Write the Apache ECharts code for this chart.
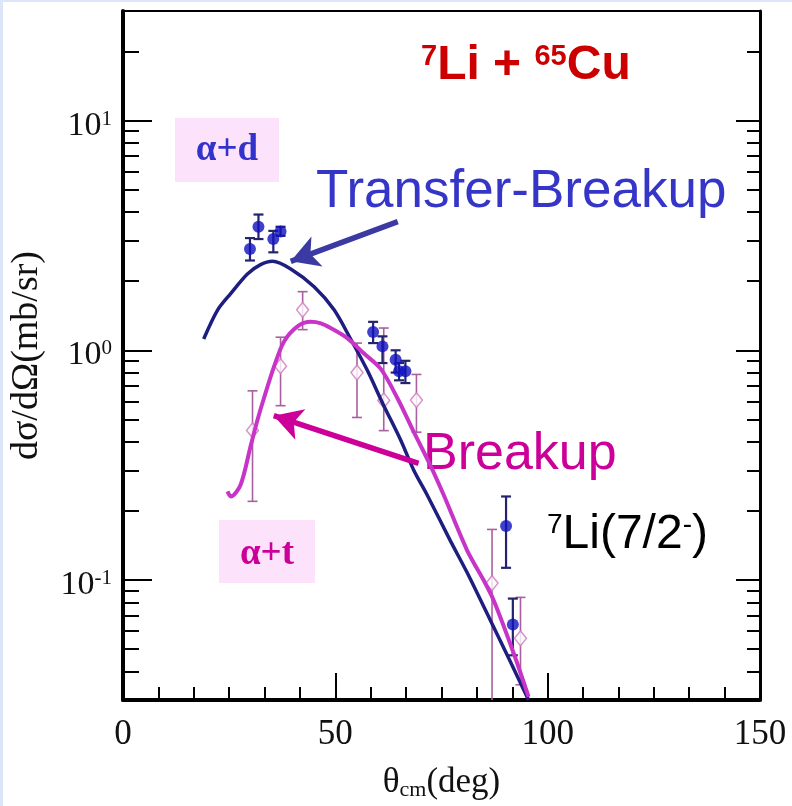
<!DOCTYPE html>
<html><head><meta charset="utf-8">
<script src="https://cdn.jsdelivr.net/npm/echarts@6.0.0/dist/echarts.min.js"></script>
<style>html,body{margin:0;padding:0;background:#fff}#c{width:792px;height:806px}</style>
</head><body><div id="c"></div>
<script>
// ---- data ----
const thetaTB = [19.0,22.3,25.4,29.3,32.4,35.2,39.5,45.0,49.7,53.6,57.5,61.3,65.3,68.5,71.6,77.1,81.0,86.5,91.0,95.5];
const sigmaTB = [1.12,1.50,1.77,2.15,2.36,2.44,2.26,1.89,1.50,1.12,0.82,0.58,0.41,0.30,0.235,0.148,0.108,0.0668,0.045,0.030];
const thetaBU = [24.6,25.4,27.7,30.1,31.7,33.2,35.6,37.9,41.1,44.2,46.6,48.9,52.8,56.7,60.7,64.6,68.5,72.4,75.5,81.0,84.9,87.3,92.0,95.5];
const sigmaBU = [0.243,0.231,0.26,0.386,0.50,0.62,0.853,1.09,1.27,1.33,1.31,1.25,1.13,0.97,0.83,0.62,0.44,0.315,0.235,0.135,0.100,0.0815,0.048,0.031];

const adX  = [29.9,31.9,35.4,37.1,58.9,61.1,64.2,65.0,66.5,90.2,91.8];
const adY  = [2.76,3.45,3.05,3.29,1.20,1.04,0.91,0.81,0.81,0.172,0.064];
const adLo = [2.46,3.05,2.67,3.15,1.075,0.88,0.80,0.74,0.72,0.113,0.047];
const adHi = [3.08,3.90,3.31,3.45,1.33,1.15,1.00,0.88,0.90,0.231,0.083];

const atX  = [30.5,37.1,42.3,55.1,61.4,69.1,86.9,93.6];
const atY  = [0.448,0.853,1.50,0.80,0.605,0.607,0.097,0.0557];
const atLo = [0.22,0.574,1.23,0.51,0.447,0.44,0.01,0.035];
const atHi = [0.666,1.14,1.80,1.075,1.25,0.785,0.166,0.084];

const xTicks = [0,50,100,150];
const yMajor = [0.1,1,10];
const yMinor = [0.04,0.05,0.06,0.07,0.08,0.09,0.2,0.3,0.4,0.5,0.6,0.7,0.8,0.9,2,3,4,5,6,7,8,9,20];

// arrow annotations [tail, tip] in data coordinates
const arrowTB = [[64.7,3.63],[39.5,2.44]];
const arrowBU = [[69.6,0.322],[35.5,0.519]];

// ---- chart ----
const SERIF = "'Liberation Serif','DejaVu Serif',serif";
const SANS = "'Liberation Sans',Arial,sans-serif";
const chart = echarts.init(document.getElementById('c'));

function errRender(color, width, cap) {
  return function (params, api) {
    const x = api.value(0), lo = api.value(2), hi = api.value(3);
    const a = api.coord([x, lo]), b = api.coord([x, hi]);
    const st = {stroke: color, lineWidth: width};
    return {type: 'group', children: [
      {type: 'line', shape: {x1: a[0], y1: a[1], x2: b[0], y2: b[1]}, style: st},
      {type: 'line', shape: {x1: b[0]-cap, y1: b[1], x2: b[0]+cap, y2: b[1]}, style: st},
      {type: 'line', shape: {x1: a[0]-cap, y1: a[1], x2: a[0]+cap, y2: a[1]}, style: st}
    ]};
  };
}

const yBase = {type: 'log', logBase: 10, min: 0.03, max: 30, splitLine: {show: false}};
const tickLine = {color: '#000', width: 2};

const option = {
  animation: false,
  backgroundColor: '#fff',
  grid: {left: 122, right: 32, top: 11, bottom: 101, show: false},
  xAxis: [
    {type: 'value', min: 0, max: 150, interval: 50, position: 'bottom',
     axisLine: {show: true, onZero: false, lineStyle: {color: '#000', width: 4}},
     axisTick: {show: true, inside: true, length: 27, lineStyle: tickLine},
     minorTick: {show: true, splitNumber: 6, length: 13, lineStyle: tickLine},
     splitLine: {show: false},
     axisLabel: {margin: 17, fontFamily: SERIF, fontSize: 35, color: '#111',
       formatter: v => xTicks.indexOf(v) >= 0 ? String(v) : ''},
     name: '{t|θ}{c|cm}{t|(deg)}', nameLocation: 'middle', nameGap: 50,
     nameTextStyle: {rich: {
       t: {fontFamily: SERIF, fontSize: 35, color: '#111', lineHeight: 36, verticalAlign: 'top'},
       c: {fontFamily: SERIF, fontSize: 22, color: '#111', lineHeight: 22, verticalAlign: 'bottom', padding: [22,0,0,0]}
     }}},
    {type: 'value', min: 0, max: 150, position: 'top',
     axisLine: {show: true, onZero: false, lineStyle: {color: '#000', width: 2}},
     axisTick: {show: false}, axisLabel: {show: false}, splitLine: {show: false}}
  ],
  yAxis: [
    Object.assign({}, yBase, {position: 'left',
      axisLine: {show: true, lineStyle: {color: '#000', width: 4}},
      axisTick: {show: true, inside: true, length: 29, customValues: yMajor, lineStyle: tickLine},
      axisLabel: {customValues: yMajor, margin: 11, padding: [10,0,0,0],
        formatter: v => '{n|10}{s|' + Math.round(Math.log10(v)) + '}',
        rich: {
          n: {fontFamily: SERIF, fontSize: 34, color: '#111', lineHeight: 34, verticalAlign: 'bottom', padding: [10,0,0,0]},
          s: {fontFamily: SERIF, fontSize: 21, color: '#111', lineHeight: 22, verticalAlign: 'top'}
        }},
      name: 'dσ/dΩ(mb/sr)', nameLocation: 'middle', nameGap: 77,
      nameTextStyle: {fontFamily: SERIF, fontSize: 38, color: '#111'}}),
    Object.assign({}, yBase, {position: 'left',
      axisLine: {show: false},
      axisTick: {show: true, inside: true, length: 16, customValues: yMinor, lineStyle: tickLine},
      axisLabel: {show: false}}),
    Object.assign({}, yBase, {position: 'right',
      axisLine: {show: true, lineStyle: {color: '#000', width: 3}},
      axisTick: {show: true, inside: true, length: 24, customValues: yMajor, lineStyle: tickLine},
      axisLabel: {show: false}}),
    Object.assign({}, yBase, {position: 'right',
      axisLine: {show: false},
      axisTick: {show: true, inside: true, length: 13, customValues: yMinor, lineStyle: tickLine},
      axisLabel: {show: false}})
  ],
  series: [
    {type: 'custom', name: 'at-err', clip: true, xAxisIndex: 0, yAxisIndex: 0,
     renderItem: errRender('#a8609e', 1.6, 5),
     encode: {x: 0, y: [1,2,3]},
     data: atX.map((x, i) => [x, atY[i], atLo[i], atHi[i]])},
    {type: 'custom', name: 'ad-err', clip: true, xAxisIndex: 0, yAxisIndex: 0,
     renderItem: errRender('#23236e', 2.2, 5),
     encode: {x: 0, y: [1,2,3]},
     data: adX.map((x, i) => [x, adY[i], adLo[i], adHi[i]])},
    {type: 'line', name: 'Transfer-Breakup', smooth: 0.3, showSymbol: false, symbol: 'none',
     xAxisIndex: 0, yAxisIndex: 0,
     lineStyle: {color: '#1e1e80', width: 3.5},
     data: thetaTB.map((x, i) => [x, sigmaTB[i]]),
     markLine: {silent: true, symbol: ['none', 'arrow'], symbolSize: [24, 28],
       label: {show: false}, lineStyle: {color: '#3a3aa2', width: 5.5, type: 'solid'},
       data: [[{coord: arrowTB[0]}, {coord: arrowTB[1]}]]}},
    {type: 'line', name: 'Breakup', smooth: 0.3, showSymbol: false, symbol: 'none',
     xAxisIndex: 0, yAxisIndex: 0,
     lineStyle: {color: '#c834c8', width: 4},
     data: thetaBU.map((x, i) => [x, sigmaBU[i]]),
     markLine: {silent: true, symbol: ['none', 'arrow'], symbolSize: [24, 28],
       label: {show: false}, lineStyle: {color: '#cc0099', width: 5.5, type: 'solid'},
       data: [[{coord: arrowBU[0]}, {coord: arrowBU[1]}]]}},
    {type: 'scatter', name: 'α+d', xAxisIndex: 0, yAxisIndex: 0,
     symbol: 'circle', symbolSize: 12,
     itemStyle: {color: '#1010c0'},
     data: adX.map((x, i) => [x, adY[i]])},
    {type: 'scatter', name: 'α+t', xAxisIndex: 0, yAxisIndex: 0,
     symbol: 'diamond', symbolSize: [12, 15],
     itemStyle: {color: '#fff', borderColor: '#cf78bd', borderWidth: 1.5},
     data: atX.map((x, i) => [x, atY[i]])}
  ],
  graphic: [
    {type: 'rect', left: 0, top: 0, shape: {width: 3, height: 806}, style: {fill: '#dbe7f8'}},
    {type: 'rect', left: 0, top: 0, shape: {width: 792, height: 2}, style: {fill: '#dbe7f8'}},
    {type: 'text', left: 421, top: 42, style: {
      text: '{s|7}{b|Li + }{s|65}{b|Cu}',
      rich: {
        b: {fill: '#cc0000', fontSize: 48, fontWeight: 'bold', fontFamily: SANS, lineHeight: 48, verticalAlign: 'bottom'},
        s: {fill: '#cc0000', fontSize: 29, fontWeight: 'bold', fontFamily: SANS, lineHeight: 28, verticalAlign: 'top'}
      }}},
    {type: 'rect', left: 175, top: 118, shape: {width: 104, height: 64}, style: {fill: '#fde2fb'}},
    {type: 'text', x: 227, y: 150, style: {text: 'α+d', align: 'center', verticalAlign: 'middle',
      fontFamily: SERIF, fontWeight: 'bold', fontSize: 37, fill: '#3333cc'}},
    {type: 'rect', left: 219, top: 520, shape: {width: 96, height: 63}, style: {fill: '#fde2fb'}},
    {type: 'text', x: 267, y: 554, style: {text: 'α+t', align: 'center', verticalAlign: 'middle',
      fontFamily: SERIF, fontWeight: 'bold', fontSize: 37, fill: '#cc0099'}},
    {type: 'text', left: 316, top: 166, style: {text: 'Transfer-Breakup',
      fontFamily: SANS, fontSize: 53, fill: '#3535c8'}},
    {type: 'text', left: 423, top: 429, style: {text: 'Breakup',
      fontFamily: SANS, fontSize: 52, fill: '#cc0099'}},
    {type: 'text', left: 547, top: 511, style: {
      text: '{s|7}{b|Li(7/2}{s|-}{b|)}',
      rich: {
        b: {fill: '#000', fontSize: 48, fontFamily: SANS, lineHeight: 48, verticalAlign: 'bottom'},
        s: {fill: '#000', fontSize: 28, fontFamily: SANS, lineHeight: 28, verticalAlign: 'top'}
      }}}
  ]
};
chart.setOption(option);
</script>
</body></html>
